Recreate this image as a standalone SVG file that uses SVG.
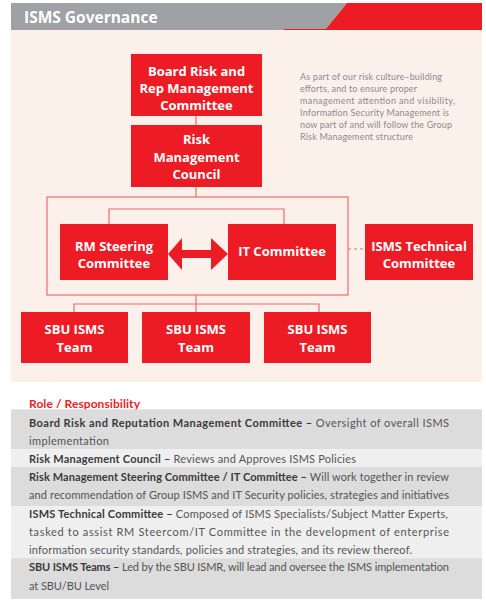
<svg xmlns="http://www.w3.org/2000/svg" width="486" height="611" viewBox="0 0 486 611">
<style>
.box{fill:#ED1C24}
.bt{font-family:"Open Sans","Liberation Sans",sans-serif;font-weight:bold;font-size:13px;fill:#fff;text-anchor:middle}
.ln{fill:none;stroke:#EF6B6B;stroke-width:1.2}
.side{font-family:Lato,"Liberation Sans",sans-serif;font-size:9px;fill:#8c8c8c}
.tb{font-family:Lato,"Liberation Sans",sans-serif;font-size:11px;fill:#555}
.b{font-weight:bold;fill:#3a3a3a}
.dark{fill:#DCDCDD}
.light{fill:#EFEFF0}
</style>
<rect width="486" height="611" fill="#fff"/>
<g id="header">
<polygon points="11,3 347,3 325,30 11,30" fill="#A0A1A4"/>
<polygon points="347,3 482,3 482,30 325,30" fill="#ED1C24"/>
<line x1="284" y1="29.5" x2="326" y2="29.5" stroke="#ED1C24" stroke-width="1"/>
<text x="24" y="22.7" font-family="Open Sans,Liberation Sans,sans-serif" font-weight="bold" font-size="15.5" fill="#fff">ISMS Governance</text>
</g>
<rect x="11" y="30" width="471" height="352" fill="#FBF0EA"/>
<g id="connectors">
<line class="ln" x1="196" y1="116" x2="196" y2="125"/>
<line class="ln" x1="196" y1="187" x2="196" y2="197"/>
<rect class="ln" x="47" y="197" width="301" height="98"/>
<polyline class="ln" points="109,224 109,209 284,209 284,224"/>
<line x1="348" y1="249" x2="365" y2="249" stroke="#EF6B6B" stroke-width="1.2" stroke-dasharray="3 3"/>
<line class="ln" x1="196" y1="295" x2="196" y2="312"/>
<polyline class="ln" points="74,312 74,304 319,304 319,312"/>
<polygon points="168,254 182,238 182,250 211,250 211,238 228,254 211,270 211,258 182,258 182,270" fill="#ED1C24"/>
</g>
<g id="board"><rect class="box" x="131" y="54" width="131" height="62"/>
<text class="bt" x="196.5" y="75.5">Board Risk and</text><text class="bt" x="196.5" y="92.5">Rep Management</text><text class="bt" x="196.5" y="109.5">Committee</text></g>
<g id="council"><rect class="box" x="131" y="125" width="131" height="62"/>
<text class="bt" x="196.5" y="144">Risk</text><text class="bt" x="196.5" y="162">Management</text><text class="bt" x="196.5" y="179">Council</text></g>
<g id="rmsteering"><rect class="box" x="60" y="224" width="108" height="56"/>
<text class="bt" x="114" y="250.5">RM Steering</text><text class="bt" x="114" y="267.5">Committee</text></g>
<g id="itcommittee"><rect class="box" x="228" y="224" width="108" height="56"/>
<text class="bt" x="282" y="255.5">IT Committee</text></g>
<g id="ismstech"><rect class="box" x="365" y="224" width="108" height="56"/>
<text class="bt" x="419" y="250.5">ISMS Technical</text><text class="bt" x="419" y="267.5">Committee</text></g>
<g id="sbu1"><rect class="box" x="21" y="312" width="107" height="51"/>
<text class="bt" x="74.5" y="334">SBU ISMS</text><text class="bt" x="74.5" y="351.5">Team</text></g>
<g id="sbu2"><rect class="box" x="142" y="312" width="108" height="51"/>
<text class="bt" x="196" y="334">SBU ISMS</text><text class="bt" x="196" y="351.5">Team</text></g>
<g id="sbu3"><rect class="box" x="264" y="312" width="107" height="51"/>
<text class="bt" x="317.5" y="334">SBU ISMS</text><text class="bt" x="317.5" y="351.5">Team</text></g>
<g id="sidenote">
<text class="side" x="300" y="79.5" textLength="142" lengthAdjust="spacing">As part of our risk culture–building</text>
<text class="side" x="300" y="92" textLength="117" lengthAdjust="spacing">efforts, and to ensure proper</text>
<text class="side" x="300" y="104" textLength="155" lengthAdjust="spacing">management attention and visibility,</text>
<text class="side" x="300" y="116" textLength="149" lengthAdjust="spacing">Information Security Management is</text>
<text class="side" x="300" y="128" textLength="152" lengthAdjust="spacing">now part of and will follow the Group</text>
<text class="side" x="300" y="140" textLength="113" lengthAdjust="spacing">Risk Management structure</text>
</g>
<g id="roles">
<text x="29" y="408" font-family="Lato,Liberation Sans,sans-serif" font-weight="bold" font-size="12" fill="#ED1C24" textLength="111" lengthAdjust="spacing">Role / Responsibility</text>
<rect class="dark" x="11" y="409.3" width="471" height="40"/>
<rect class="light" x="11" y="449.3" width="471" height="17.4"/>
<rect class="dark" x="11" y="466.7" width="471" height="39.3"/>
<rect class="light" x="11" y="506" width="471" height="52.3"/>
<rect class="dark" x="11" y="558.3" width="471" height="40.7"/>
<text class="tb" x="29" y="426.5" textLength="420" lengthAdjust="spacing"><tspan class="b">Board Risk and Reputation Management Committee –</tspan> Oversight of overall ISMS</text>
<text class="tb" x="29" y="444.5" textLength="80" lengthAdjust="spacing">implementation</text>
<text class="tb" x="29" y="463" textLength="327" lengthAdjust="spacing"><tspan class="b">Risk Management Council –</tspan> Reviews and Approves ISMS Policies</text>
<text class="tb" x="29" y="481" textLength="420" lengthAdjust="spacing"><tspan class="b">Risk Management Steering Committee / IT Committee –</tspan> Will work together in review</text>
<text class="tb" x="29" y="499" textLength="420" lengthAdjust="spacing">and recommendation of Group ISMS and IT Security policies, strategies and initiatives</text>
<text class="tb" x="29" y="518" textLength="419" lengthAdjust="spacing"><tspan class="b">ISMS Technical Committee –</tspan> Composed of ISMS Specialists/Subject Matter Experts,</text>
<text class="tb" x="29" y="535.5" textLength="420" lengthAdjust="spacing">tasked to assist RM Steercom/IT Committee in the development of enterprise</text>
<text class="tb" x="29" y="553.5" textLength="383" lengthAdjust="spacing">information security standards, policies and strategies, and its review thereof.</text>
<text class="tb" x="29" y="571" textLength="420" lengthAdjust="spacing"><tspan class="b">SBU ISMS Teams –</tspan> Led by the SBU ISMR, will lead and oversee the ISMS implementation</text>
<text class="tb" x="29" y="590" textLength="80" lengthAdjust="spacing">at SBU/BU Level</text>
</g>
</svg>
